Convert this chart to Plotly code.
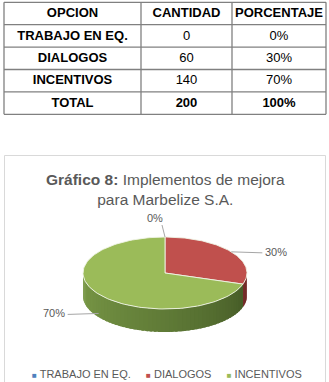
import numpy as np
import plotly.graph_objects as go

# ---- data ----
categories = ["TRABAJO EN EQ.", "DIALOGOS", "INCENTIVOS"]
cantidad = [0, 60, 140]
porcentaje = ["0%", "30%", "70%"]
total_label = "TOTAL"
total_cantidad = 200
total_porcentaje = "100%"
header = ["OPCION", "CANTIDAD", "PORCENTAJE"]

top_colors = ["#4F81BD", "#C0504D", "#9BBB59"]
side_dark = ["#2a4a70", "#6e2826", "#3c5021"]
side_light = ["#4d76a8", "#a3413e", "#7a9a47"]

W, H = 329, 382
FONT = "Liberation Sans"
GREY = "#595959"

fig = go.Figure()

# ---- table (cells drawn on the pixel-scaled axes) ----
tbl_left, tbl_top, row_h = 4, 2.3, 22.4
col_w = [137, 91, 94]
rows = [["<b>%s</b>" % t for t in header]]
for c, v, p in zip(categories, cantidad, porcentaje):
    rows.append(["<b>%s</b>" % c, str(v), p])
rows.append(["<b>%s</b>" % total_label, "<b>%d</b>" % total_cantidad, "<b>%s</b>" % total_porcentaje])

col_edges = np.concatenate([[tbl_left], tbl_left + np.cumsum(col_w)])
row_edges = tbl_top + row_h * np.arange(len(rows) + 1)
for j in range(len(col_w)):
    xc = (col_edges[j] + col_edges[j + 1]) / 2
    yc = (row_edges[:-1] + row_edges[1:]) / 2 + 0.5
    fig.add_trace(go.Scatter(x=[xc] * len(rows), y=yc, mode="text",
                             text=[r[j] for r in rows], textposition="middle center",
                             textfont=dict(family=FONT, size=13, color="black"),
                             hoverinfo="skip", showlegend=False))
for xe in col_edges:
    fig.add_shape(type="line", x0=xe, x1=xe, y0=row_edges[0], y1=row_edges[-1],
                  line=dict(color="#808080", width=1.3))
for ye in row_edges:
    fig.add_shape(type="line", x0=col_edges[0], x1=col_edges[-1], y0=ye, y1=ye,
                  line=dict(color="#808080", width=1.3))

# ---- 3D pie built from the data ----
cx, cy, a, b, h = 165, 273, 82, 36, 23
total = float(sum(cantidad))
fracs = [v / total for v in cantidad]
starts = np.concatenate([[0], np.cumsum(fracs)[:-1]])


def pt(theta):
    return cx + a * np.sin(theta), cy - b * np.cos(theta)


def mix(c1, c2, t):
    c1 = [int(c1[i:i + 2], 16) for i in (1, 3, 5)]
    c2 = [int(c2[i:i + 2], 16) for i in (1, 3, 5)]
    return "rgb(%d,%d,%d)" % tuple(round(p + (q - p) * t) for p, q in zip(c1, c2))


# side band (front half only: theta in [pi/2, 3pi/2])
step = np.radians(3)
for i, f in enumerate(fracs):
    if f <= 0:
        continue
    t0, t1 = 2 * np.pi * starts[i], 2 * np.pi * (starts[i] + f)
    lo, hi = max(t0, np.pi / 2), min(t1, 3 * np.pi / 2)
    if hi <= lo:
        continue
    nseg = max(1, int(np.ceil((hi - lo) / step)))
    edges = np.linspace(lo, hi, nseg + 1)
    for k in range(nseg):
        e1 = min(hi, edges[k + 1] + step * 0.6)
        th = np.linspace(edges[k], e1, 5)
        xs, ys = pt(th)
        px = np.concatenate([xs, xs[::-1]])
        py = np.concatenate([ys, ys[::-1] + h])
        tm = ((edges[k] + edges[k + 1]) / 2 - np.pi / 2) / np.pi
        col = mix(side_dark[i], side_light[i], tm ** 0.8)
        fig.add_trace(go.Scatter(x=px, y=py, fill="toself", mode="none",
                                 fillcolor=col, hoverinfo="skip", showlegend=False))

# top surfaces
for i, f in enumerate(fracs):
    if f <= 0:
        continue
    th = np.linspace(2 * np.pi * starts[i], 2 * np.pi * (starts[i] + f), 120)
    xs, ys = pt(th)
    px = np.concatenate([[cx], xs, [cx]])
    py = np.concatenate([[cy], ys, [cy]])
    fig.add_trace(go.Scatter(x=px, y=py, fill="toself", mode="lines",
                             fillcolor=top_colors[i],
                             line=dict(color="rgba(240,244,230,0.9)", width=1),
                             name=categories[i], hoverinfo="skip", showlegend=False))

# data labels with leader lines
for i, f in enumerate(fracs):
    mid = 2 * np.pi * (starts[i] + f / 2)
    ax, ay = pt(mid)
    if np.cos(mid) < 0:
        ay = ay + h * (-np.cos(mid)) + 0.25 * h
    label = "%d%%" % round(100 * f)
    if abs(np.sin(mid)) < 0.3:
        lx, ly = ax - 3, ay - 12
        fig.add_trace(go.Scatter(x=[ax, lx], y=[ay, ly], mode="lines",
                                 line=dict(color="#a6a6a6", width=1),
                                 hoverinfo="skip", showlegend=False))
        fig.add_annotation(x=lx + 3, y=ly + 1, text=label, showarrow=False,
                           xanchor="right", yanchor="bottom",
                           font=dict(family=FONT, size=11, color=GREY))
    else:
        side = 1 if np.sin(mid) > 0 else -1
        lx = ax + side * 31
        fig.add_trace(go.Scatter(x=[ax, lx], y=[ay, ay + 1], mode="lines",
                                 line=dict(color="#a6a6a6", width=1),
                                 hoverinfo="skip", showlegend=False))
        fig.add_annotation(x=lx + side * 1, y=ay, text=label, showarrow=False,
                           xanchor="left" if side > 0 else "right", yanchor="middle",
                           font=dict(family=FONT, size=11, color=GREY))

# title
fig.add_annotation(x=165, y=189, text="<b>Gráfico 8:</b> Implementos de mejora<br>para Marbelize S.A.",
                   showarrow=False, xanchor="center", yanchor="middle",
                   font=dict(family=FONT, size=15.5, color=GREY))

# legend
items = []
for c, col in zip(categories, top_colors):
    items.append("<span style='color:%s;font-size:8px'>■</span> %s" % (col, c))
fig.add_annotation(x=167, y=374, text="     ".join(items), showarrow=False,
                   xanchor="center", yanchor="middle",
                   font=dict(family=FONT, size=11, color=GREY))

# chart frame
fig.add_shape(type="rect", x0=4.5, y0=155.5, x1=325.5, y1=392,
              line=dict(color="#d9d9d9", width=1), layer="below")

fig.update_layout(
    width=W, height=H, margin=dict(l=0, r=0, t=0, b=0),
    paper_bgcolor="white", plot_bgcolor="white", showlegend=False,
    xaxis=dict(range=[0, W], visible=False, fixedrange=True, domain=[0, 1]),
    yaxis=dict(range=[H, 0], visible=False, fixedrange=True, domain=[0, 1]),
)

fig.write_html("out.html")
